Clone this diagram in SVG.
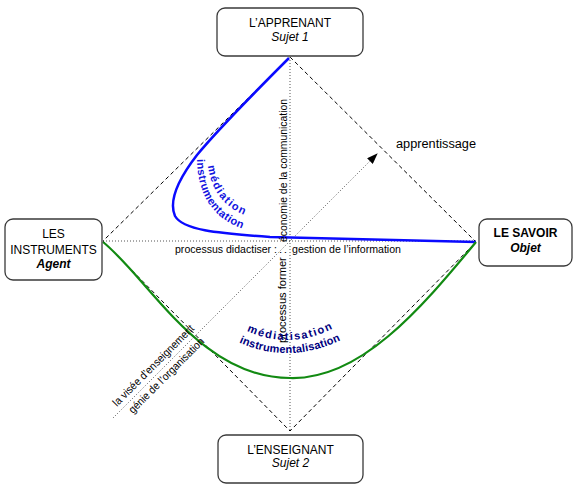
<svg xmlns="http://www.w3.org/2000/svg" width="577" height="491" viewBox="0 0 577 491">
<style>
.box{fill:#fff;stroke:#3a3a3a;stroke-width:1.3}
.t{font-family:"Liberation Sans",Arial,sans-serif;font-size:12px;fill:#000}
.b{font-weight:bold}
.i{font-style:italic}
.dash{fill:none;stroke:#000;stroke-width:1;stroke-dasharray:4 3}
.dot{fill:none;stroke:#555;stroke-width:1;stroke-dasharray:1 2}
.lab{font-family:"Liberation Sans",Arial,sans-serif;font-size:11px;fill:#000}
.cb{font-family:"Liberation Sans",Arial,sans-serif;font-size:11px;font-weight:bold}
</style>
<defs>
<marker id="arrow" markerWidth="11" markerHeight="8" refX="10" refY="4" orient="auto" markerUnits="userSpaceOnUse"><path d="M0,0 L11,4 L0,8 z" fill="#000"/></marker>
<path id="p-med" d="M207,158 C209,190 224,214 266,221"/>
<path id="p-ins" d="M197,154 C196,200 218,227 263,234"/>
<path id="p-mtis" d="M245,330 Q290,352 338,326"/>
<path id="p-ital" d="M238,342 Q290,366 345,338"/>
</defs>
<rect width="577" height="491" fill="#fff"/>

<g id="connectors">
<path class="dash" d="M290,57 L476,242 L290,431 L103,241 Z"/>
<path class="dot" d="M290,57 L290,431"/>
<path class="dot" d="M103,241 L476,241"/>
<path class="dot" d="M113,418 L377,154" marker-end="url(#arrow)"/>
<path d="M289,58 C250,97 215,133 197,155 C180,177 168,200 175,216 C183,230 215,233 270,237 L476,242" fill="none" stroke="#0a0aff" stroke-width="2.5"/>
<path d="M103,242 C150,280 200,378 290,378 C360,380 420,310 476,242" fill="none" stroke="#128a12" stroke-width="2.2"/>
</g>

<g id="labels">
<text class="lab" transform="translate(287,242) rotate(-90)" textLength="143" lengthAdjust="spacingAndGlyphs">économie de la communication</text>
<text class="lab" transform="translate(286,343) rotate(-90)" textLength="92" lengthAdjust="spacingAndGlyphs">processus former :</text>
<text class="lab" x="175" y="253" textLength="102" lengthAdjust="spacingAndGlyphs">processus didactiser :</text>
<text class="lab" x="292" y="253" textLength="109" lengthAdjust="spacingAndGlyphs">gestion de l’information</text>
<text class="t" x="396" y="148" textLength="80" lengthAdjust="spacingAndGlyphs">apprentissage</text>
<text class="lab" transform="translate(156,368) rotate(-45)" text-anchor="middle" textLength="110" lengthAdjust="spacingAndGlyphs">la visée d’enseignement</text>
<text class="lab" transform="translate(169,378) rotate(-45)" text-anchor="middle" textLength="102" lengthAdjust="spacingAndGlyphs">génie de l’organisation</text>
<text class="cb" fill="#1212e0" font-size="12" letter-spacing="1.5"><textPath href="#p-med" startOffset="8">médiation</textPath></text>
<text class="cb" fill="#1212e0" font-size="12" letter-spacing="0.4"><textPath href="#p-ins" startOffset="5">instrumentation</textPath></text>
<text class="cb" fill="#000080" letter-spacing="1.5"><textPath href="#p-mtis" startOffset="2">médiatisation</textPath></text>
<text class="cb" fill="#000080" letter-spacing="0.2"><textPath href="#p-ital" startOffset="1">instrumentalisation</textPath></text>
</g>

<g id="node-apprenant">
<rect class="box" x="217" y="8" width="146" height="48" rx="8"/>
<text class="t" x="290" y="27" text-anchor="middle">L’APPRENANT</text>
<text class="t i" x="290" y="41" text-anchor="middle" font-size="13">Sujet 1</text>
</g>
<g id="node-instruments">
<rect class="box" x="5" y="219" width="97" height="61" rx="8"/>
<text class="t" x="53.5" y="238" text-anchor="middle">LES</text>
<text class="t" x="53.5" y="254" text-anchor="middle">INSTRUMENTS</text>
<text class="t b i" x="53.5" y="268" text-anchor="middle">Agent</text>
</g>
<g id="node-savoir">
<rect class="box" x="479" y="219" width="93" height="47" rx="8"/>
<text class="t b" x="525.5" y="237" text-anchor="middle">LE SAVOIR</text>
<text class="t b i" x="525.5" y="252" text-anchor="middle">Objet</text>
</g>
<g id="node-enseignant">
<rect class="box" x="218" y="435" width="145" height="48" rx="8"/>
<text class="t" x="290.5" y="454" text-anchor="middle">L’ENSEIGNANT</text>
<text class="t i" x="290.5" y="467" text-anchor="middle" font-size="13">Sujet 2</text>
</g>
</svg>
